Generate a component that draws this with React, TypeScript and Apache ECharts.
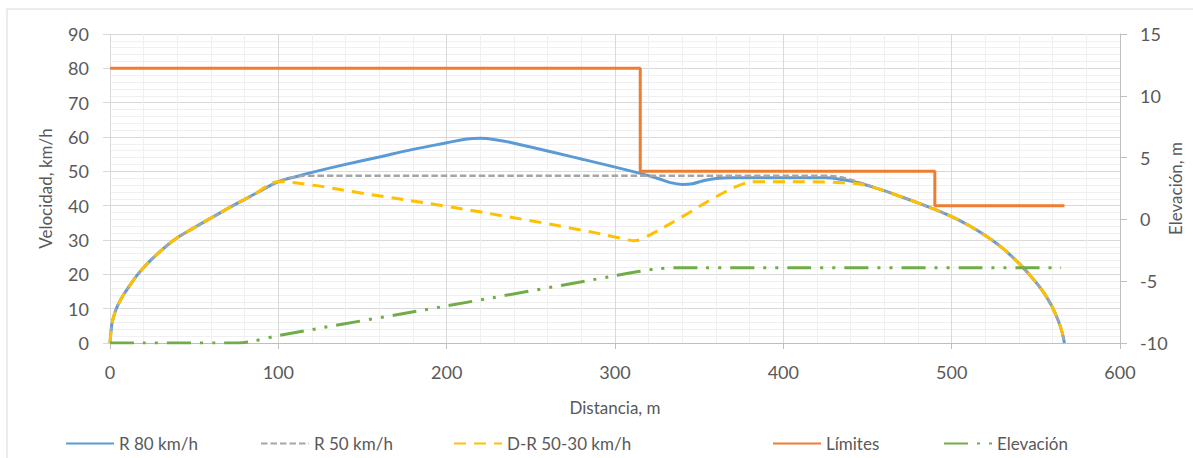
import React, { useEffect, useRef } from "react";
import * as echarts from "echarts";

// Distances (m) and speeds (km/h)
const r80X = [0, 1, 2, 4, 7, 10, 16.5, 25, 38, 50, 60, 73, 86, 100, 110, 120, 138, 160, 180, 200, 212, 220, 228, 240, 280, 315, 325, 333, 340, 346, 352, 360, 370, 425, 435, 445, 457, 470, 480, 490, 500, 510, 520, 530, 540, 548, 554, 559, 563, 565.5, 567];
const r80V = [0, 5.2, 7.4, 10.3, 13.2, 15.5, 20, 24.5, 30, 33.6, 36.4, 40, 43.4, 47, 48.4, 49.7, 51.8, 54.2, 56.4, 58.3, 59.4, 59.6, 59.3, 58.2, 53.6, 49.4, 48.0, 46.7, 46.2, 46.4, 47.2, 47.9, 48.1, 48.1, 47.6, 46.6, 44.8, 42.6, 40.8, 38.9, 36.8, 34.3, 31.3, 27.7, 23.2, 18.9, 15.2, 11.2, 6.9, 3.3, 0];

const r50X = [0, 1, 2, 4, 7, 10, 16.5, 25, 38, 50, 60, 73, 86, 100, 108, 116, 425, 435, 445, 457, 470, 480, 490, 500, 510, 520, 530, 540, 548, 554, 559, 563, 565.5, 567];
const r50V = [0, 5.2, 7.4, 10.3, 13.2, 15.5, 20, 24.5, 30, 33.6, 36.4, 40, 43.4, 47, 48.2, 48.7, 48.7, 48.2, 46.8, 44.8, 42.6, 40.8, 38.9, 36.8, 34.3, 31.3, 27.7, 23.2, 18.9, 15.2, 11.2, 6.9, 3.3, 0];

const drX = [0, 1, 2, 4, 7, 10, 16.5, 25, 38, 50, 60, 73, 86, 100, 120, 150, 200, 250, 280, 300, 306, 311, 316, 340, 360, 377, 385, 425, 435, 445, 457, 470, 480, 490, 500, 510, 520, 530, 540, 548, 554, 559, 563, 565.5, 567];
const drV = [0, 5.2, 7.4, 10.3, 13.2, 15.5, 20, 24.5, 30, 33.6, 36.4, 40, 43.4, 47, 46.0, 43.6, 39.8, 35.6, 32.9, 30.9, 30.2, 29.8, 30.3, 36.8, 42.6, 46.5, 47.0, 46.9, 46.7, 46.3, 44.8, 42.6, 40.8, 38.9, 36.8, 34.3, 31.3, 27.7, 23.2, 18.9, 15.2, 11.2, 6.9, 3.3, 0];

const limX = [0, 315, 315, 490, 490, 567];
const limV = [80, 80, 50, 50, 40, 40];

// Elevation (m), right axis
const elevX = [0, 76, 85, 100, 200, 300, 315, 325, 335, 565];
const elevE = [-10, -10, -9.85, -9.4, -7.0, -4.56, -4.2, -4.0, -3.92, -3.92];

const seriesNames = ["R 80 km/h", "R 50 km/h", "D-R 50-30 km/h", "Límites", "Elevación"];
const legendLefts = [65, 260, 453, 772, 943];

const FONT = "Lato, 'Liberation Sans', sans-serif";
const TXT = "#595959";

const pairs = (xs: number[], ys: number[]) => xs.map((x, i) => [x, ys[i]]);

export default function App() {
  const ref = useRef<HTMLDivElement>(null);
  useEffect(() => {
    if (!ref.current) return;
    document.body.style.margin = "0";
    document.body.style.overflow = "hidden";
    const chart = echarts.init(ref.current, undefined, { renderer: "svg", width: 1193, height: 458 });
    const minorSplit = { show: true, lineStyle: { color: "#f0f0f0", width: 1 } };
    const option: any = {
      animation: false,
      backgroundColor: "#ffffff",
      textStyle: { fontFamily: FONT, color: TXT },
      graphic: [
        {
          type: "rect",
          silent: true,
          z: -10,
          shape: { x: 7, y: 9, width: 1300, height: 600 },
          style: { fill: "none", stroke: "#d9d9d9", lineWidth: 1 },
        },
      ],
      grid: { left: 110, right: 73, top: 34, bottom: 115, containLabel: false, outerBoundsMode: "none" },
      legend: seriesNames.map((n, i) => ({
        data: [n],
        left: legendLefts[i],
        top: 435,
        padding: 0,
        itemWidth: 48,
        itemHeight: 14,
        itemGap: 0,
        itemStyle: { opacity: 0 },
        textStyle: { fontFamily: FONT, fontSize: 17, color: TXT, padding: [0, 0, 0, 0] },
        selectedMode: false,
      })),
      xAxis: {
        type: "value",
        min: 0,
        max: 600,
        interval: 100,
        name: "Distancia, m",
        nameLocation: "middle",
        nameGap: 56,
        nameMoveOverlap: false,
        nameTextStyle: { fontFamily: FONT, fontSize: 17, color: TXT },
        axisLine: { show: true, lineStyle: { color: "#bfbfbf", width: 1 } },
        axisTick: { show: true, length: 6, lineStyle: { color: "#bfbfbf" } },
        axisLabel: { fontFamily: FONT, fontSize: 18, color: TXT, margin: 20 },
        splitLine: { show: true, lineStyle: { color: "#d9d9d9", width: 1 } },
        minorTick: { show: false, splitNumber: 5 },
        minorSplitLine: minorSplit,
      },
      yAxis: [
        {
          type: "value",
          min: 0,
          max: 90,
          interval: 10,
          name: "Velocidad, km/h",
          nameLocation: "middle",
          nameGap: 56,
          nameMoveOverlap: false,
          nameTextStyle: { fontFamily: FONT, fontSize: 17, color: TXT },
          axisLine: { show: true, lineStyle: { color: "#d9d9d9" } },
          axisTick: { show: true, length: 7, lineStyle: { color: "#d9d9d9" } },
          axisLabel: { fontFamily: FONT, fontSize: 18, color: TXT, margin: 21 },
          splitLine: { show: true, lineStyle: { color: "#d9d9d9", width: 1 } },
          minorTick: { show: false, splitNumber: 5 },
          minorSplitLine: minorSplit,
        },
        {
          type: "value",
          min: -10,
          max: 15,
          interval: 5,
          position: "right",
          name: "Elevación, m",
          nameLocation: "middle",
          nameGap: 47,
          nameMoveOverlap: false,
          nameTextStyle: { fontFamily: FONT, fontSize: 17, color: TXT },
          axisLine: { show: true, lineStyle: { color: "#bfbfbf" } },
          axisTick: { show: true, length: 7, lineStyle: { color: "#bfbfbf" } },
          axisLabel: { fontFamily: FONT, fontSize: 18, color: TXT, margin: 20 },
          splitLine: { show: false },
        },
      ],
      series: [
        {
          name: seriesNames[0],
          type: "line",
          data: pairs(r80X, r80V),
          symbol: "none",
          smooth: 0.4,
          lineStyle: { color: "#5b9bd5", width: 3 },
          itemStyle: { color: "#5b9bd5" },
          z: 2,
        },
        {
          name: seriesNames[1],
          type: "line",
          data: pairs(r50X, r50V),
          symbol: "none",
          smooth: 0.4,
          lineStyle: { color: "#a5a5a5", width: 2.5, type: [6.5, 3] },
          itemStyle: { color: "#a5a5a5" },
          z: 3,
        },
        {
          name: seriesNames[2],
          type: "line",
          data: pairs(drX, drV),
          symbol: "none",
          smooth: 0.4,
          lineStyle: { color: "#ffc000", width: 3, type: [12, 8] },
          itemStyle: { color: "#ffc000" },
          z: 4,
        },
        {
          name: seriesNames[3],
          type: "line",
          data: pairs(limX, limV),
          symbol: "none",
          smooth: false,
          lineStyle: { color: "#ed7d31", width: 3 },
          itemStyle: { color: "#ed7d31" },
          z: 5,
        },
        {
          name: seriesNames[4],
          type: "line",
          yAxisIndex: 1,
          data: pairs(elevX, elevE),
          symbol: "none",
          smooth: 0.3,
          lineStyle: { color: "#70ad47", width: 3, type: [24, 9, 3, 9, 3, 9] },
          itemStyle: { color: "#70ad47" },
          z: 6,
        },
      ],
    };
    chart.setOption(option);
    return () => chart.dispose();
  }, []);
  return (
    <div
      ref={ref}
      style={{ position: "absolute", left: 0, top: 0, width: 1193, height: 458 }}
    />
  );
}
